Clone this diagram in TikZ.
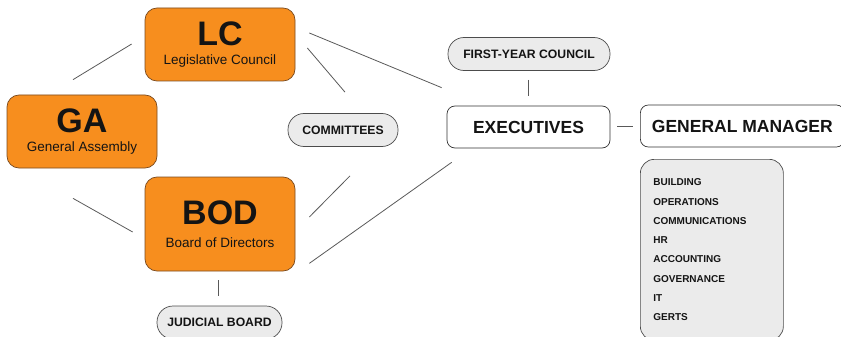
\documentclass[tikz,border=0pt]{standalone}
\usepackage{fontspec}
\setmainfont{Liberation Sans}
\usepackage{xcolor}
\usepackage{tikz}
\usetikzlibrary{positioning}
\definecolor{bodyorange}{HTML}{F78E1E}
\definecolor{bodyedge}{HTML}{7A4A1E}
\definecolor{pillgray}{HTML}{EBEBEB}
\definecolor{inkdark}{HTML}{141414}
\tikzstyle{council} = [rectangle, rounded corners=12pt, minimum width=150pt, minimum height=73pt, inner sep=0pt, align=center, text=inkdark, draw=bodyedge, line width=0.7pt, fill=bodyorange, font=\fontsize{13.5}{19}\selectfont]
\tikzstyle{pill} = [rectangle, rounded corners=16pt, minimum height=33pt, inner sep=0pt, text=inkdark, draw=black!70, line width=0.7pt, fill=pillgray, font=\fontsize{12.2}{14}\selectfont\bfseries]
\tikzstyle{office} = [rectangle, rounded corners=8pt, minimum height=42pt, inner sep=0pt, text=inkdark, draw=black!80, line width=0.7pt, fill=white, font=\fontsize{17.5}{20}\selectfont\bfseries]
\tikzstyle{deptlist} = [rectangle, rounded corners=14pt, minimum width=143pt, minimum height=181pt, inner xsep=13pt, inner ysep=0pt, text width=117pt, align=left, text=inkdark, draw=black!70, line width=0.7pt, fill=pillgray, font=\fontsize{10}{19.3}\selectfont\bfseries]
\tikzstyle{link} = [draw=black!65, line width=0.8pt]

\begin{document}
\begin{tikzpicture}[x=1pt, y=-1pt]
\useasboundingbox (0,0) rectangle (841,337);

% governing bodies
\node (lc) [council] at (220,44.5) {{\fontsize{34}{34}\selectfont\bfseries LC}\\Legislative Council};
\node (ga) [council] at (82,131.5) {{\fontsize{34}{34}\selectfont\bfseries GA}\\General Assembly};
\node (bod) [council, minimum height=94pt] at (220,224) {{\fontsize{34}{34}\selectfont\bfseries BOD}\\[4pt]Board of Directors};

\node (jb) [pill, minimum width=125pt] at (219.5,322.5) {JUDICIAL BOARD};
\node (comm) [pill, minimum width=110pt] at (343,130) {COMMITTEES};
\node (fyc) [pill, minimum width=162pt] at (529,54) {FIRST-YEAR COUNCIL};

% offices
\node (exec) [office, minimum width=163pt] at (528.5,127) {EXECUTIVES};
\node (gm) [office, minimum width=204pt, anchor=west] at (640,126) {GENERAL MANAGER};
\node (depts) [deptlist, anchor=north west] at (640,159) {BUILDING\\OPERATIONS\\COMMUNICATIONS\\HR\\ACCOUNTING\\GOVERNANCE\\IT\\GERTS};

% connectors
\draw [link] ([shift={(-9,-15)}]ga.north) -- ([shift={(-13,-0.5)}]lc.west);
\draw [link] ([shift={(-9,30)}]ga.south) -- ([shift={(-12,8)}]bod.west);
\draw [link] ([shift={(14,-11.5)}]lc.east) -- ([shift={(-5,-18)}]exec.north west);
\draw [link] ([shift={(12,3.5)}]lc.east) -- ([shift={(2,-21)}]comm.north);
\draw [link] ([shift={(-1,9)}]fyc.south) -- ([shift={(-0.5,-10)}]exec.north);
\draw [link] ([shift={(7,-1)}]exec.east) -- ([shift={(-7,0)}]gm.west);
\draw [link] ([shift={(14,-7)}]bod.east) -- ([shift={(7,29)}]comm.south);
\draw [link] ([shift={(14,-8)}]bod.south east) -- ([shift={(5,14)}]exec.south west);
\draw [link] ([shift={(-2,9)}]bod.south) -- ([shift={(-1.5,-10)}]jb.north);
\end{tikzpicture}
\end{document}
